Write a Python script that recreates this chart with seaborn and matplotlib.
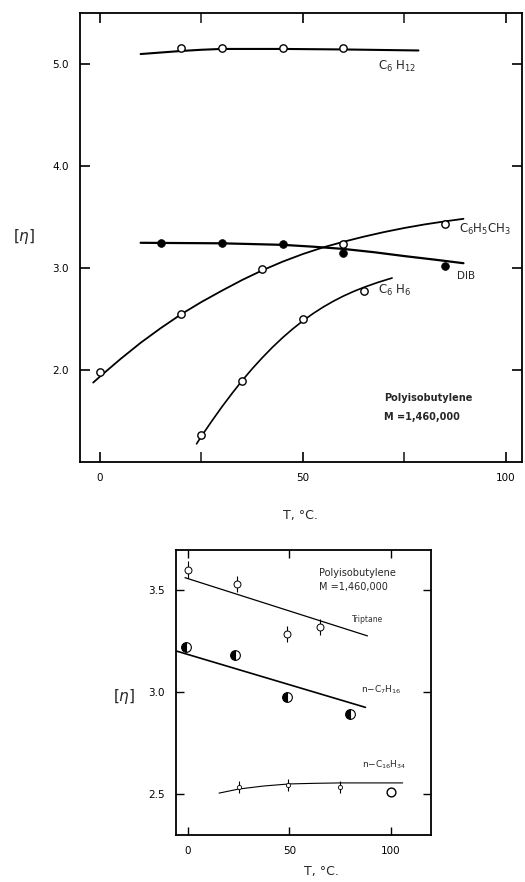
import numpy as np
import pandas as pd
import seaborn as sns
import matplotlib
matplotlib.use("Agg")
import matplotlib.pyplot as plt

# ---------------- data: top chart ----------------
c6h12_T = [20, 30, 45, 60]
c6h12_eta = [5.16, 5.16, 5.16, 5.16]
c6h12_curve_T = [10, 15, 20, 25, 30, 45, 60, 78.5]
c6h12_curve_eta = [5.10, 5.115, 5.13, 5.142, 5.15, 5.15, 5.145, 5.135]

dib_T = [15, 30, 45, 60, 85]
dib_eta = [3.25, 3.25, 3.24, 3.15, 3.02]
dib_curve_T = [10, 30, 45, 52.5, 60, 67.5, 75, 82.5, 89.6]
dib_curve_eta = [3.25, 3.245, 3.23, 3.212, 3.19, 3.158, 3.12, 3.085, 3.05]

tol_T = [0, 20, 40, 60, 85]
tol_eta = [1.98, 2.55, 2.99, 3.235, 3.43]
tol_curve_T = [-1.7, 0, 5, 10, 15, 20, 25, 30, 35, 40, 45, 50, 55, 60,
               65, 70, 75, 80, 85, 89.6]
tol_curve_eta = [1.88, 1.94, 2.11, 2.27, 2.415, 2.55, 2.67, 2.78, 2.885, 2.98,
                 3.065, 3.14, 3.205, 3.26, 3.31, 3.355, 3.395, 3.43, 3.46, 3.485]

bz_T = [25, 35, 50, 65]
bz_eta = [1.37, 1.90, 2.50, 2.78]
bz_curve_T = [23.8, 25, 27.5, 30, 32.5, 35, 37.5, 40, 42.5, 45, 47.5, 50,
              52.5, 55, 57.5, 60, 62.5, 65, 68.5, 72]
bz_curve_eta = [1.28, 1.355, 1.50, 1.64, 1.772, 1.898, 2.015, 2.124, 2.226, 2.32,
                2.406, 2.485, 2.556, 2.62, 2.677, 2.728, 2.773, 2.813, 2.862, 2.905]

# ---------------- data: bottom chart ----------------
trip_T = [0, 24, 49, 65]
trip_eta = [3.60, 3.53, 3.285, 3.32]
trip_line_T = [-1.5, 88.6]
trip_line_eta = [3.56, 3.275]

hep_T = [-1, 23, 49, 80]
hep_eta = [3.22, 3.18, 2.975, 2.89]
hep_line_T = [-5.5, 87.6]
hep_line_eta = [3.20, 2.925]

hex_T = [25, 49.5, 75, 100]
hex_eta = [2.535, 2.545, 2.535, 2.51]
hex_curve_T = [15.3, 25, 37.5, 50, 62.5, 75, 106]
hex_curve_eta = [2.505, 2.525, 2.54, 2.55, 2.553, 2.555, 2.555]

top_xticks = [0, 50, 100]
top_xticks_minor = [25, 75]
top_yticks = [2.0, 3.0, 4.0, 5.0]
bot_xticks = [0, 50, 100]
bot_yticks = [2.5, 3.0, 3.5]

sns.set_style("ticks")
plt.rcParams["font.family"] = ["DejaVu Sans"]
plt.rcParams["mathtext.fontset"] = "dejavusans"

fig = plt.figure(figsize=(5.25, 8.82), dpi=100)
ax1 = fig.add_axes([0.152, 0.476, 0.842, 0.509])
ax2 = fig.add_axes([0.335, 0.0533, 0.486, 0.323])

K = "black"

def style(ax):
    for s in ax.spines.values():
        s.set_linewidth(1.3)
        s.set_color(K)
    ax.tick_params(direction="in", top=True, right=True, length=7, width=1.2,
                   labelsize=7.5, colors=K, pad=8)

# ---- top chart ----
for cx, cy, lw in [(c6h12_curve_T, c6h12_curve_eta, 1.5),
                   (dib_curve_T, dib_curve_eta, 1.6),
                   (tol_curve_T, tol_curve_eta, 1.3),
                   (bz_curve_T, bz_curve_eta, 1.2)]:
    sns.lineplot(x=cx, y=cy, ax=ax1, color=K, lw=lw, sort=False)

for px, py in [(c6h12_T, c6h12_eta), (tol_T, tol_eta), (bz_T, bz_eta)]:
    sns.scatterplot(x=px, y=py, ax=ax1, marker="o", s=28, facecolor="white",
                    edgecolor=K, linewidth=1.0, zorder=5)
sns.scatterplot(x=dib_T, y=dib_eta, ax=ax1, marker="o", s=32, color=K,
                edgecolor=K, zorder=5)

ax1.set_xlim(-5, 104)
ax1.set_ylim(1.1, 5.5)
ax1.set_xticks(top_xticks)
ax1.set_xticks(top_xticks_minor, minor=True)
ax1.set_yticks(top_yticks)
ax1.set_yticklabels([f"{v:.1f}" for v in top_yticks])
style(ax1)
ax1.tick_params(which="minor", direction="in", top=True, bottom=True, length=7, width=1.2)
ax1.set_xlabel("")
ax1.set_ylabel("")

fs = 8.5
ax1.text(68.5, 4.94, r"C$_6$ H$_{12}$", fontsize=fs)
ax1.text(88.5, 3.35, r"C$_6$H$_5$CH$_3$", fontsize=fs)
ax1.text(88, 2.90, "DIB", fontsize=7.5)
ax1.text(68.5, 2.75, r"C$_6$ H$_6$", fontsize=fs)
ax1.text(70, 1.70, "Polyisobutylene", fontsize=7, fontweight="bold")
ax1.text(70, 1.51, "M =1,460,000", fontsize=7, fontweight="bold")

fig.text(300 / 525, 1 - 516 / 882, "T, °C.", fontsize=9, ha="center", va="center")
fig.text(24 / 525, 1 - 237 / 882, "[$\\eta$]", fontsize=11, ha="center", va="center")

# ---- bottom chart ----
sns.lineplot(x=trip_line_T, y=trip_line_eta, ax=ax2, color=K, lw=0.9)
sns.lineplot(x=hep_line_T, y=hep_line_eta, ax=ax2, color=K, lw=1.2)
sns.lineplot(x=hex_curve_T, y=hex_curve_eta, ax=ax2, color=K, lw=0.8, sort=False)

ax2.errorbar(trip_T, trip_eta, yerr=0.04, fmt="o", ms=5, mfc="white", mec=K,
             mew=0.7, ecolor=K, elinewidth=0.8, capsize=0, zorder=5)
ax2.plot(hep_T, hep_eta, "o", ms=7, mfc=K, mec=K, mew=0.8, fillstyle="left",
         markerfacecoloralt="white", linestyle="", zorder=5)
ax2.errorbar(hex_T[:3], hex_eta[:3], yerr=0.03, fmt="o", ms=3, mfc="white", mec=K,
             mew=0.6, ecolor=K, elinewidth=0.8, capsize=0, zorder=5)
sns.scatterplot(x=hex_T[3:], y=hex_eta[3:], ax=ax2, marker="o", s=40,
                facecolor="white", edgecolor=K, linewidth=1.0, zorder=5)

ax2.set_xlim(-6, 120)
ax2.set_ylim(2.3, 3.695)
ax2.set_xticks(bot_xticks)
ax2.set_yticks(bot_yticks)
ax2.set_yticklabels([f"{v:.1f}" for v in bot_yticks])
style(ax2)
ax2.tick_params(length=6, width=1.0)
ax2.set_xlabel("")
ax2.set_ylabel("")

ax2.text(64.5, 3.57, "Polyisobutylene", fontsize=7)
ax2.text(64.5, 3.50, "M =1,460,000", fontsize=7)
ax2.text(81, 3.345, "Triptane", fontsize=5.5, color="#333333")
ax2.text(85.5, 3.0, r"n$-$C$_7$H$_{16}$", fontsize=6.5)
ax2.text(86, 2.63, r"n$-$C$_{16}$H$_{34}$", fontsize=6.5)

fig.text(321 / 525, 1 - 872 / 882, "T, °C.", fontsize=9, ha="center", va="center")
fig.text(124 / 525, 1 - 697 / 882, "[$\\eta$]", fontsize=11, ha="center", va="center")

fig.savefig("out.png", dpi=100)
